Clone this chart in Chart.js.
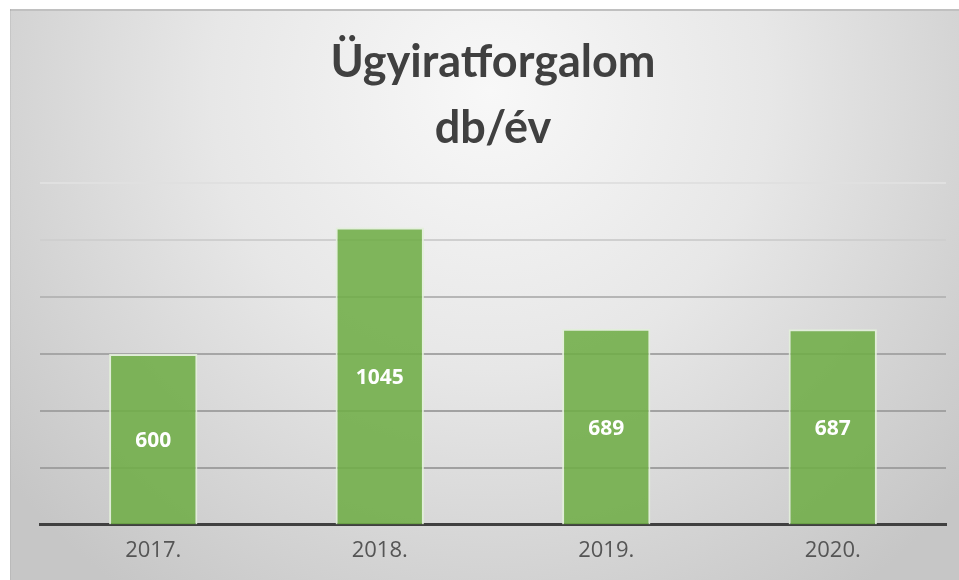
<!DOCTYPE html>
<html>
<head>
<meta charset="utf-8">
<script src="https://cdn.jsdelivr.net/npm/chart.js@4/dist/chart.umd.min.js"></script>
<style>
  html, body { margin: 0; padding: 0; background: #fff; }
  #wrap { width: 959px; height: 580px; }
</style>
</head>
<body>
<div id="wrap"><canvas id="ugyiratChart"></canvas></div>
<script>
// adatok
const evek = ['2017.', '2018.', '2019.', '2020.'];
const ugyiratok = [600, 1045, 689, 687];
const cimSorok = ['Ügyiratforgalom', 'db/év'];

// szürke háttér, színátmenettel
const hatter = {
    id: 'hatter',
    beforeDraw(chart) {
        const ctx = chart.ctx;
        const w = chart.width, h = chart.height;
        ctx.save();
        ctx.fillStyle = '#ffffff';
        ctx.fillRect(0, 0, w, h);
        const g = ctx.createRadialGradient(490, 90, 0, 490, 90, 620);
        g.addColorStop(0, '#f8f8f8');
        g.addColorStop(0.45, '#e7e7e7');
        g.addColorStop(1, '#c6c6c6');
        ctx.fillStyle = g;
        ctx.fillRect(10, 9, w - 10, h - 9);
        ctx.fillStyle = '#c0c0c0';
        ctx.fillRect(10, 9, w - 10, 2);
        ctx.fillStyle = 'rgba(0,0,0,0.06)';
        ctx.fillRect(10, 9, 1, h - 9);
        ctx.restore();
    }
};

// értékek a hasábok közepére
const ertekCimkek = {
    id: 'ertekCimkek',
    afterDatasetsDraw(chart) {
        const ctx = chart.ctx;
        const meta = chart.getDatasetMeta(0);
        ctx.save();
        ctx.font = 'bold 21px "Open Sans", sans-serif';
        ctx.fillStyle = '#ffffff';
        ctx.textAlign = 'center';
        ctx.textBaseline = 'middle';
        meta.data.forEach(function(bar, i) {
            ctx.fillText(String(chart.data.datasets[0].data[i]), bar.x, (bar.y + bar.base) / 2 + 2);
        });
        ctx.restore();
    }
};

const racsSzinek = { 1200: '#e0e0e0', 1000: '#cfcfcf', 800: '#b6b6b6', 600: '#a6a6a6', 400: '#a2a2a2', 200: '#a0a0a0' };

new Chart(document.getElementById('ugyiratChart'), {
    type: 'bar',
    data: {
        labels: evek,
        datasets: [{
            data: ugyiratok,
            backgroundColor: 'rgba(112, 173, 71, 0.88)',
            borderColor: 'rgba(226, 240, 217, 0.9)',
            borderWidth: 2,
            categoryPercentage: 1,
            barPercentage: 0.39
        }]
    },
    options: {
        responsive: true,
        maintainAspectRatio: false,
        animation: false,
        layout: { padding: { left: 40, right: 13, top: 0, bottom: 3 } },
        plugins: {
            legend: { display: false },
            tooltip: { enabled: false },
            title: {
                display: true,
                text: cimSorok,
                color: '#404040',
                font: { family: 'Lato', size: 45, weight: 'bold', lineHeight: 1.47 },
                padding: { top: 29, bottom: 22 }
            }
        },
        scales: {
            x: {
                grid: { display: false, drawTicks: false },
                border: { display: true, color: '#404040', width: 3 },
                ticks: {
                    color: '#555555',
                    padding: 13,
                    font: { family: 'Open Sans', size: 22 }
                }
            },
            y: {
                min: 0,
                max: 1200,
                ticks: { display: false, stepSize: 200 },
                border: { display: false },
                grid: {
                    drawTicks: false,
                    lineWidth: function(c) { return c.tick && c.tick.value === 0 ? 0 : 2; },
                    color: function(c) { return c.tick ? (racsSzinek[c.tick.value] || '#a2a2a2') : '#a2a2a2'; }
                }
            }
        }
    },
    plugins: [hatter, ertekCimkek]
});
</script>
</body>
</html>
